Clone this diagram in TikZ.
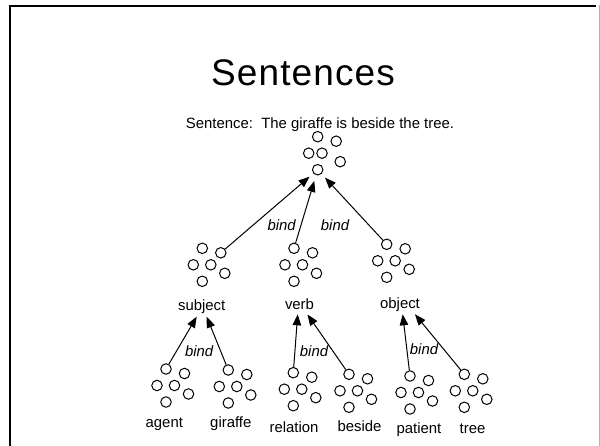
\documentclass[tikz,border=0pt]{standalone}
\usepackage{fontspec}
\setmainfont{Liberation Sans}
\usetikzlibrary{arrows.meta}
\tikzset{
  dot/.style={circle, draw, line width=1pt, minimum size=10.5pt, inner sep=0pt},
  lbl/.style={anchor=base, inner sep=0pt, font=\fontsize{14.9}{17}\selectfont},
  bindlbl/.style={anchor=base, inner sep=0pt, font=\fontsize{14.9}{17}\selectfont\itshape},
  arr/.style={line width=1pt, -{Triangle[length=11pt,width=8.5pt]}},
  pics/cluster/.style={code={
    \node[dot] (-a) at (0,0) {};
    \node[dot] (-b) at (18.5,4.5) {};
    \node[dot] (-c) at (-9,16.5) {};
    \node[dot] (-d) at (#1,16.5) {};
    \node[dot] (-e) at (22.5,25) {};
    \node[dot] (-f) at (0,33) {};
  }},
  pics/cluster/.default=8.5
}
\begin{document}
\begin{tikzpicture}[x=1pt, y=-1pt]
\useasboundingbox (0,0) rectangle (600,446);
% frame
\draw[line width=2.5pt] (10,446) -- (10,6) -- (596,6);
\draw[black!30, line width=1pt] (599,5) -- (599,446);
% title and sentence
\node[anchor=base, inner sep=0pt, font=\fontsize{37}{40}\selectfont\addfontfeature{LetterSpace=3}] (title) at (303,85.7) {Sentences};
\node[anchor=base, inner sep=0pt, font=\fontsize{14.9}{17}\selectfont] (sent) at (320,128.3) {Sentence:\ \ The giraffe is beside the tree.};
% clusters
\pic (top) at (317.7,136.7) {cluster=4.3};
\pic (subj) at (202.3,248.3) {cluster};
\pic (verb) at (294,248.3) {cluster};
\pic (obj) at (386.7,244.3) {cluster};
\pic (agent) at (166,369) {cluster};
\pic (giraffe) at (228.3,370) {cluster};
\pic (rel) at (293.3,372.7) {cluster};
\pic (beside) at (349,374.3) {cluster};
\pic (patient) at (410,376) {cluster};
\pic (tree) at (464.3,374.3) {cluster};
% labels
\node[lbl] (lsubj) at (201.7,311) {subject};
\node[lbl] (lverb) at (299.5,309.5) {verb};
\node[lbl] (lobj) at (400,309) {object};
\node[lbl] (lagent) at (164.3,428) {agent};
\node[lbl] (lgiraffe) at (230.8,428) {giraffe};
\node[lbl] (lrel) at (294,432.5) {relation};
\node[lbl] (lbeside) at (359.5,431.7) {beside};
\node[lbl] (lpatient) at (419,433) {patient};
\node[lbl] (ltree) at (472.5,433) {tree};
% bind labels
\node[bindlbl] (b1) at (281.7,231) {bind};
\node[bindlbl] (b2) at (335,231) {bind};
\node[bindlbl] (b3) at (199.2,356.5) {bind};
\node[bindlbl] (b4) at (314,357) {bind};
\node[bindlbl] (b5) at (424,355) {bind};
% arrow tips
\coordinate (s1) at (196.7,316.7);
\coordinate (s2) at (206.7,316.7);
\coordinate (v1) at (297.7,314.3);
\coordinate (v2) at (307.5,314.5);
\coordinate (o1) at (402.7,314.3);
\coordinate (o2) at (415,314.3);
% arrows
\draw[arr, shorten >=5pt] (subj-b) -- (top-f);
\draw[arr, shorten >=6pt] (verb-a) -- (top-f);
\draw[arr, shorten >=5pt] (obj-a) -- (top-f);
\draw[arr] (agent-a) -- (s1);
\draw[arr] (giraffe-a) -- (s2);
\draw[arr] (rel-a) -- (v1);
\draw[arr] (beside-a) -- (v2);
\draw[arr] (patient-a) -- (o1);
\draw[arr] (tree-a) -- (o2);
\end{tikzpicture}
\end{document}
